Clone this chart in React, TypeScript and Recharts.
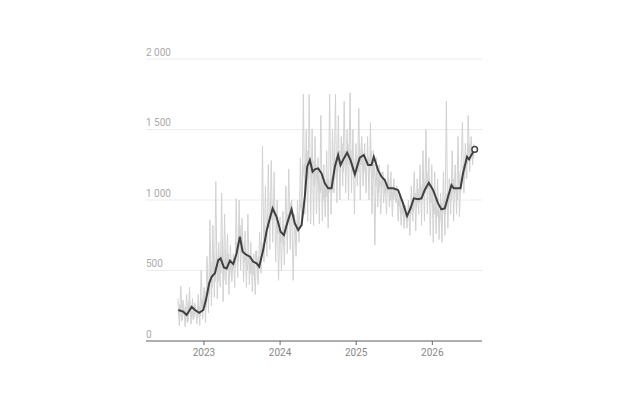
import { LineChart, Line, XAxis, YAxis, CartesianGrid } from 'recharts';

// weekly raw values, first week starting end of Aug 2022
const WEEK_START = 2022.6575;
const WEEK_STEP = 7 / 365.25;

const rawValues = [
  300, 110, 390, 150, 260, 100, 330, 140, 380, 120, 300, 160, 250,
  120, 330, 110, 500, 160, 380, 130, 600, 200, 860, 250, 820, 310,
  1130, 300, 700, 380, 1050, 280, 900, 400, 760, 330, 680, 420, 620,
  380, 1010, 450, 1000, 500, 870, 420, 780, 380, 900, 400, 700, 350,
  620, 330, 640, 400, 770, 480, 1380, 560, 1100, 600, 1250, 650, 1280,
  700, 1200, 560, 1000, 430, 880, 500, 920, 540, 1100, 620, 1220, 650,
  1000, 430, 900, 600, 1000, 700, 1300, 820, 1750, 900, 1500, 850, 1750,
  830, 1500, 820, 1450, 900, 1300, 830, 1600, 850, 1250, 880, 1350, 800,
  1750, 900, 1500, 1050, 1750, 980, 1600, 1000, 1450, 1100, 1700, 1050, 1500,
  1000, 1760, 1050, 1500, 900, 1400, 1100, 1650, 1000, 1450, 1100, 1400, 1050,
  1450, 1000, 1550, 900, 1350, 680, 1300, 950, 1250, 900, 1200, 980, 1150,
  900, 1250, 950, 1200, 880, 1150, 1000, 1100, 850, 1050, 820, 1000, 800,
  960, 800, 1000, 750, 1100, 850, 1200, 780, 1150, 900, 1250, 820, 1350,
  850, 1500, 900, 1300, 750, 1250, 700, 1200, 760, 1150, 720, 1050, 700,
  1200, 750, 1700, 800, 1150, 900, 1350, 850, 1250, 900, 1450, 880, 1200,
  1550, 1050, 1400, 1150, 1600, 1200, 1450, 1250, 1400,
];

// mid-week readings, half a week after each value above
const rawValuesMid = [
  180, 260, 140, 290, 170, 240, 130, 280, 190, 250, 150, 270, 200,
  160, 250, 180, 300, 220, 350, 240, 420, 330, 560, 380, 600, 420,
  650, 420, 600, 480, 720, 430, 650, 500, 620, 460, 580, 500, 560,
  520, 700, 560, 820, 640, 700, 560, 650, 500, 620, 480, 600, 470,
  500, 640, 520, 600, 560, 700, 650, 820, 720, 900, 800, 1000, 860,
  1000, 860, 880, 760, 800, 700, 760, 680, 820, 760, 900, 820, 980,
  880, 820, 760, 800, 860, 920, 1000, 1150, 1250, 1200, 1350, 1150, 1300,
  1150, 1280, 1100, 1250, 1120, 1200, 1050, 1180, 1000, 1120, 1020, 1150, 1050,
  1150, 1050, 1200, 1150, 1300, 1200, 1350, 1250, 1400, 1200, 1350, 1250, 1400,
  1250, 1350, 1200, 1300, 1150, 1250, 1200, 1400, 1250, 1350, 1200, 1300, 1250,
  1300, 1200, 1350, 1150, 1250, 1100, 1200, 1050, 1150, 1080, 1200, 1050, 1100,
  1050, 1150, 1000, 1100, 1000, 1080, 980, 1050, 950, 1000, 900, 950, 880,
  900, 850, 960, 880, 1000, 920, 1050, 950, 1080, 980, 1100, 1000, 1150,
  1050, 1200, 1080, 1150, 980, 1050, 900, 1000, 880, 950, 850, 980, 900,
  1000, 900, 1050, 950, 1100, 1000, 1150, 1050, 1100, 1000, 1200, 1050, 1100,
  1250, 1150, 1300, 1250, 1400, 1300, 1350, 1300, 1380,
];

const trendYears = [
  2022.663, 2022.728, 2022.773, 2022.839, 2022.882, 2022.938, 2022.991,
  2023.026, 2023.070, 2023.101, 2023.144, 2023.188, 2023.219, 2023.262,
  2023.298, 2023.341, 2023.385, 2023.429, 2023.472, 2023.508, 2023.560,
  2023.604, 2023.647, 2023.692, 2023.726, 2023.778, 2023.823, 2023.866,
  2023.902, 2023.954, 2024.007, 2024.050, 2024.093, 2024.151, 2024.194,
  2024.238, 2024.282, 2024.325, 2024.356, 2024.391, 2024.427, 2024.457,
  2024.500, 2024.545, 2024.588, 2024.631, 2024.676, 2024.719, 2024.762,
  2024.794, 2024.837, 2024.881, 2024.925, 2024.982, 2025.047, 2025.100,
  2025.156, 2025.201, 2025.231, 2025.287, 2025.332, 2025.375, 2025.419,
  2025.484, 2025.550, 2025.615, 2025.668, 2025.713, 2025.756, 2025.812,
  2025.857, 2025.900, 2025.953, 2026.009, 2026.075, 2026.119, 2026.163,
  2026.206, 2026.251, 2026.281, 2026.324, 2026.369, 2026.403, 2026.455,
  2026.482, 2026.513, 2026.556,
];
const trendValues = [
  220, 208, 185, 243, 220, 200, 220,
  290, 411, 456, 480, 574, 586, 522,
  515, 569, 546, 622, 740, 633, 610,
  598, 562, 551, 527, 645, 780, 870,
  940, 881, 775, 751, 834, 934, 834,
  787, 822, 1023, 1236, 1283, 1200, 1217,
  1224, 1189, 1118, 1083, 1083, 1236, 1319,
  1248, 1295, 1335, 1283, 1183, 1300, 1319,
  1248, 1248, 1307, 1212, 1165, 1142, 1083,
  1083, 1071, 976, 886, 940, 1012, 1005,
  1012, 1071, 1122, 1071, 976, 934, 940,
  1023, 1106, 1083, 1083, 1083, 1189, 1307,
  1288, 1319, 1359,
];

const yearTicks = [2023, 2024, 2025, 2026];
const valueTicks = [0, 500, 1000, 1500, 2000];

const rawData = rawValues.map((v, i) => ({ t: WEEK_START + i * WEEK_STEP, raw: v }));
const rawMidData = rawValuesMid.map((v, i) => ({ t: WEEK_START + (i + 0.5) * WEEK_STEP, raw: v }));
const trendData = trendYears.map((t, i) => ({ t, avg: trendValues[i] }));

const fmt = (v: number) => (v >= 1000 ? `${Math.floor(v / 1000)} ${String(v % 1000).padStart(3, '0')}` : String(v));

function ValueTick(props: any) {
  const { y, payload } = props;
  return (
    <text x={146} y={y - 7} dy="0.35em" textAnchor="start" fill="#aaa" fontSize={10} fontFamily="Roboto, sans-serif">
      {fmt(payload.value)}
    </text>
  );
}

function EndDot({ cx, cy, index }: any) {
  if (index !== trendData.length - 1) return <g key={index} />;
  return <circle key={index} cx={cx} cy={cy} r={2.8} fill="#fff" stroke="#444" strokeWidth={1.5} />;
}

export default function App() {
  return (
    <div style={{ position: 'absolute', left: 0, top: 0, width: 624, height: 416, background: '#fff' }}>
      <LineChart width={624} height={416} margin={{ top: 59, right: 142, bottom: 45, left: 145 }}>
        <CartesianGrid horizontal vertical={false} stroke="#ececec" />
        <XAxis
          dataKey="t"
          type="number"
          height={30}
          domain={[2022.239, 2026.652]}
          ticks={yearTicks}
          allowDataOverflow
          tickFormatter={(v) => String(Math.round(v))}
          axisLine={{ stroke: '#666' }}
          tickLine={{ stroke: '#666' }}
          tickSize={4}
          tickMargin={4}
          tick={{ fill: '#888', fontSize: 10, fontFamily: 'Roboto, sans-serif' }}
        />
        <YAxis
          type="number"
          domain={[0, 2000]}
          ticks={valueTicks}
          width={1}
          axisLine={false}
          tickLine={false}
          tick={(p: any) => <ValueTick {...p} />}
        />
        <Line data={rawData} dataKey="raw" stroke="#d2d2d2" strokeWidth={1} dot={false} isAnimationActive={false} />
        <Line data={rawMidData} dataKey="raw" stroke="#d2d2d2" strokeWidth={1} dot={false} isAnimationActive={false} />
        <Line data={trendData} dataKey="avg" stroke="#404040" strokeWidth={2} dot={<EndDot />} activeDot={false} isAnimationActive={false} />
      </LineChart>
    </div>
  );
}
